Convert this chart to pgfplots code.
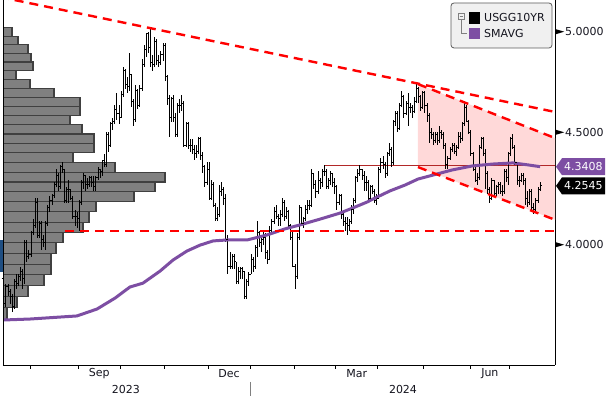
\documentclass[border=0pt]{standalone}
\usepackage{pgfplots}
\pgfplotsset{compat=1.18}
\usepackage{pgfplotstable}
\usepackage{fontspec}
\setmainfont{DejaVu Sans}
\definecolor{smacol}{RGB}{125,78,163}
\definecolor{pinkfill}{RGB}{255,217,217}
\definecolor{barfill}{RGB}{128,128,128}
\definecolor{baredge}{RGB}{64,64,64}
\definecolor{thinred}{RGB}{178,40,40}
\definecolor{legbg}{RGB}{240,240,240}
\definecolor{legedge}{RGB}{90,90,90}
\definecolor{bbblue}{RGB}{31,78,130}
\definecolor{txt}{RGB}{20,20,30}

\pgfdeclareplotmark{otick}{\pgfpathmoveto{\pgfqpoint{-2.2pt}{0pt}}\pgfpathlineto{\pgfqpoint{0pt}{0pt}}\pgfusepathqstroke}
\pgfdeclareplotmark{ctick}{\pgfpathmoveto{\pgfqpoint{0pt}{0pt}}\pgfpathlineto{\pgfqpoint{2.2pt}{0pt}}\pgfusepathqstroke}
\newcommand\tri{\tikz[baseline=-4pt]\fill[black] (0,-2.4pt)--(8pt,0)--(0,2.4pt)--cycle;\hspace{1pt}}
\newcommand\lblfont{\fontsize{11}{13}\selectfont}

\pgfplotstableread{
i o h l c
0 3.86 3.87 3.74 3.76
1 3.76 3.84 3.75 3.83
2 3.83 3.84 3.79 3.81
3 3.81 3.82 3.76 3.79
4 3.79 3.80 3.73 3.75
5 3.75 3.86 3.74 3.85
6 3.85 3.88 3.82 3.84
7 3.84 3.88 3.83 3.87
8 3.87 3.91 3.85 3.89
9 3.89 3.90 3.82 3.86
10 3.86 4.02 3.84 4.01
11 4.01 4.02 3.93 3.95
12 3.95 3.98 3.94 3.96
13 3.96 4.06 3.95 4.05
14 4.05 4.11 4.04 4.08
15 4.08 4.20 4.07 4.18
16 4.18 4.20 4.03 4.04
17 4.04 4.10 4.03 4.09
18 4.09 4.10 3.98 4.02
19 4.02 4.04 3.99 4.01
20 4.01 4.10 3.98 4.09
21 4.09 4.17 4.08 4.16
22 4.16 4.21 4.14 4.19
23 4.19 4.22 4.17 4.21
24 4.21 4.27 4.20 4.26
25 4.26 4.33 4.25 4.30
26 4.30 4.31 4.23 4.25
27 4.25 4.35 4.24 4.34
28 4.34 4.36 4.31 4.33
29 4.33 4.33 4.18 4.19
30 4.19 4.25 4.18 4.24
31 4.24 4.28 4.18 4.24
32 4.24 4.24 4.19 4.20
33 4.20 4.21 4.11 4.12
34 4.12 4.15 4.08 4.12
35 4.12 4.14 4.07 4.11
36 4.11 4.19 4.06 4.18
37 4.18 4.28 4.17 4.27
38 4.27 4.31 4.24 4.30
39 4.30 4.30 4.23 4.26
40 4.26 4.29 4.24 4.26
41 4.26 4.30 4.25 4.29
42 4.29 4.30 4.25 4.27
43 4.27 4.30 4.23 4.25
44 4.25 4.30 4.23 4.29
45 4.29 4.34 4.28 4.33
46 4.33 4.33 4.29 4.32
47 4.32 4.37 4.30 4.37
48 4.37 4.40 4.34 4.35
49 4.35 4.50 4.34 4.49
50 4.49 4.50 4.41 4.44
51 4.44 4.55 4.43 4.54
52 4.54 4.57 4.51 4.55
53 4.55 4.63 4.54 4.61
54 4.61 4.69 4.56 4.59
55 4.59 4.63 4.54 4.57
56 4.57 4.70 4.57 4.68
57 4.68 4.82 4.67 4.80
58 4.80 4.81 4.71 4.73
59 4.73 4.77 4.69 4.72
60 4.72 4.89 4.70 4.78
61 4.78 4.78 4.62 4.65
62 4.65 4.66 4.53 4.56
63 4.56 4.73 4.55 4.70
64 4.70 4.71 4.61 4.63
65 4.63 4.73 4.62 4.71
66 4.71 4.86 4.70 4.83
67 4.83 4.93 4.82 4.91
68 4.91 4.99 4.87 4.99
69 4.99 5.00 4.89 4.92
70 4.92 5.02 4.82 4.84
71 4.84 4.88 4.80 4.83
72 4.83 4.97 4.82 4.95
73 4.95 4.96 4.83 4.85
74 4.85 4.88 4.82 4.84
75 4.84 4.90 4.83 4.88
76 4.88 4.94 4.85 4.93
77 4.93 4.94 4.75 4.77
78 4.77 4.78 4.63 4.66
79 4.66 4.68 4.48 4.57
80 4.57 4.67 4.55 4.66
81 4.66 4.68 4.55 4.57
82 4.57 4.59 4.48 4.49
83 4.49 4.64 4.48 4.63
84 4.63 4.66 4.59 4.63
85 4.63 4.68 4.60 4.64
86 4.64 4.65 4.43 4.44
87 4.44 4.55 4.43 4.54
88 4.54 4.55 4.42 4.44
89 4.44 4.47 4.41 4.44
90 4.44 4.47 4.40 4.42
91 4.42 4.44 4.37 4.40
92 4.40 4.44 4.38 4.41
93 4.41 4.48 4.40 4.47
94 4.47 4.48 4.37 4.39
95 4.39 4.41 4.31 4.34
96 4.34 4.35 4.25 4.27
97 4.27 4.36 4.26 4.33
98 4.33 4.36 4.19 4.20
99 4.20 4.28 4.19 4.26
100 4.26 4.27 4.16 4.17
101 4.17 4.18 4.10 4.11
102 4.11 4.16 4.10 4.13
103 4.13 4.26 4.12 4.23
104 4.23 4.27 4.21 4.24
105 4.24 4.25 4.17 4.20
106 4.20 4.22 4.01 4.02
107 4.02 4.04 3.88 3.91
108 3.91 3.97 3.90 3.91
109 3.91 3.96 3.90 3.95
110 3.95 3.96 3.90 3.93
111 3.93 3.93 3.84 3.85
112 3.85 3.91 3.84 3.89
113 3.89 3.91 3.86 3.90
114 3.90 3.91 3.86 3.89
115 3.89 3.89 3.78 3.79
116 3.79 3.86 3.78 3.85
117 3.85 3.89 3.83 3.88
118 3.88 3.96 3.88 3.94
119 3.94 3.95 3.89 3.91
120 3.91 4.00 3.90 3.99
121 3.99 4.10 3.95 4.05
122 4.05 4.06 3.99 4.01
123 4.01 4.04 3.97 4.02
124 4.02 4.06 4.00 4.03
125 4.03 4.05 3.94 3.97
126 3.97 3.98 3.92 3.94
127 3.94 4.08 3.94 4.06
128 4.06 4.11 4.04 4.10
129 4.10 4.16 4.09 4.14
130 4.14 4.17 4.11 4.12
131 4.12 4.13 4.08 4.11
132 4.11 4.15 4.08 4.13
133 4.13 4.20 4.12 4.18
134 4.18 4.19 4.10 4.12
135 4.12 4.16 4.11 4.14
136 4.14 4.15 4.07 4.08
137 4.08 4.09 4.02 4.03
138 4.03 4.06 3.91 3.91
139 3.91 3.92 3.82 3.87
140 3.87 4.05 3.86 4.03
141 4.03 4.17 4.02 4.16
142 4.16 4.16 4.08 4.09
143 4.09 4.12 4.07 4.11
144 4.11 4.17 4.10 4.15
145 4.15 4.19 4.13 4.17
146 4.17 4.19 4.15 4.17
147 4.17 4.33 4.16 4.31
148 4.31 4.31 4.24 4.26
149 4.26 4.28 4.20 4.23
150 4.23 4.32 4.22 4.28
151 4.28 4.29 4.24 4.27
152 4.27 4.33 4.25 4.32
153 4.32 4.35 4.30 4.32
154 4.32 4.33 4.24 4.25
155 4.25 4.29 4.24 4.28
156 4.28 4.32 4.26 4.31
157 4.31 4.31 4.25 4.27
158 4.27 4.29 4.22 4.25
159 4.25 4.26 4.15 4.18
160 4.18 4.22 4.17 4.21
161 4.21 4.22 4.11 4.13
162 4.13 4.15 4.08 4.10
163 4.10 4.12 4.06 4.09
164 4.09 4.12 4.04 4.08
165 4.08 4.11 4.06 4.10
166 4.10 4.17 4.09 4.15
167 4.15 4.20 4.13 4.19
168 4.19 4.30 4.18 4.29
169 4.29 4.33 4.27 4.31
170 4.31 4.35 4.30 4.33
171 4.33 4.33 4.28 4.30
172 4.30 4.32 4.23 4.27
173 4.27 4.30 4.23 4.27
174 4.27 4.28 4.19 4.20
175 4.20 4.26 4.19 4.25
176 4.25 4.26 4.22 4.23
177 4.23 4.24 4.18 4.19
178 4.19 4.22 4.17 4.20
179 4.20 4.34 4.20 4.33
180 4.33 4.38 4.31 4.36
181 4.36 4.39 4.33 4.35
182 4.35 4.36 4.29 4.31
183 4.31 4.41 4.30 4.40
184 4.40 4.45 4.39 4.42
185 4.42 4.43 4.34 4.36
186 4.36 4.56 4.35 4.55
187 4.55 4.60 4.53 4.59
188 4.59 4.60 4.50 4.52
189 4.52 4.64 4.51 4.63
190 4.63 4.70 4.62 4.67
191 4.67 4.68 4.57 4.59
192 4.59 4.65 4.58 4.64
193 4.64 4.69 4.53 4.62
194 4.62 4.64 4.59 4.62
195 4.62 4.63 4.57 4.60
196 4.60 4.67 4.59 4.65
197 4.65 4.74 4.64 4.71
198 4.71 4.72 4.64 4.67
199 4.67 4.68 4.60 4.62
200 4.62 4.70 4.61 4.69
201 4.69 4.70 4.59 4.63
202 4.63 4.64 4.55 4.58
203 4.58 4.59 4.45 4.50
204 4.50 4.52 4.47 4.49
205 4.49 4.50 4.44 4.46
206 4.46 4.50 4.45 4.49
207 4.49 4.50 4.44 4.46
208 4.46 4.53 4.45 4.50
209 4.50 4.51 4.47 4.49
210 4.49 4.50 4.42 4.44
211 4.44 4.45 4.33 4.35
212 4.35 4.39 4.33 4.38
213 4.38 4.43 4.37 4.42
214 4.42 4.45 4.41 4.44
215 4.44 4.45 4.40 4.41
216 4.41 4.44 4.39 4.43
217 4.43 4.50 4.42 4.48
218 4.48 4.50 4.45 4.47
219 4.47 4.55 4.46 4.54
220 4.54 4.64 4.53 4.62
221 4.62 4.63 4.55 4.55
222 4.55 4.56 4.49 4.50
223 4.50 4.51 4.39 4.40
224 4.40 4.41 4.32 4.33
225 4.33 4.34 4.27 4.28
226 4.28 4.31 4.26 4.29
227 4.29 4.44 4.28 4.43
228 4.43 4.48 4.42 4.47
229 4.47 4.48 4.39 4.40
230 4.40 4.42 4.24 4.31
231 4.31 4.32 4.22 4.24
232 4.24 4.25 4.18 4.20
233 4.20 4.29 4.19 4.28
234 4.28 4.28 4.21 4.22
235 4.22 4.26 4.21 4.25
236 4.25 4.27 4.22 4.26
237 4.26 4.27 4.22 4.23
238 4.23 4.26 4.21 4.23
239 4.23 4.33 4.22 4.32
240 4.32 4.33 4.27 4.29
241 4.29 4.41 4.26 4.40
242 4.40 4.48 4.39 4.47
243 4.47 4.49 4.42 4.43
244 4.43 4.44 4.35 4.36
245 4.36 4.36 4.26 4.28
246 4.28 4.30 4.25 4.28
247 4.28 4.31 4.27 4.30
248 4.30 4.31 4.26 4.28
249 4.28 4.29 4.17 4.20
250 4.20 4.23 4.16 4.18
251 4.18 4.24 4.17 4.23
252 4.23 4.24 4.15 4.16
253 4.16 4.18 4.13 4.15
254 4.15 4.20 4.14 4.19
255 4.19 4.25 4.18 4.24
256 4.24 4.27 4.23 4.2545
}\ohlc

\begin{document}
\begin{tikzpicture}
% ---- volume-at-price profile (background axis) ----
\begin{axis}[
  at={(0,0)}, anchor=south west,
  scale only axis, width=552pt, height=365pt,
  xmin=0, xmax=552,
  ymode=log, ymin=3.527, ymax=5.169,
  hide axis, clip=true,
]
\addplot[xbar interval, fill=barfill, draw=baredge, line width=1.1pt]
coordinates {
(4,3.700) (14,3.744) (25,3.788) (41,3.832) (48,3.876) (48,3.920)
(53,3.964) (60,4.008) (80,4.052) (86,4.096) (93,4.140) (131,4.184)
(152,4.228) (162,4.272) (112,4.316) (70,4.360) (91,4.404) (91,4.448)
(79,4.492) (67,4.536) (77,4.580) (77,4.624) (51,4.668) (27,4.712)
(13,4.756) (30,4.800) (28,4.844) (25,4.888) (15,4.932) (9,4.976) (0,5.020)
};
\end{axis}

% ---- main price axis ----
\begin{axis}[
  at={(0,0)}, anchor=south west,
  scale only axis, width=552pt, height=365pt,
  xmin=-0.39, xmax=263.1,
  ymode=log, ymin=3.527, ymax=5.169,
  axis x line*=bottom, axis y line*=right,
  axis line style={black, line width=0.8pt},
  xtick={12.5,35.5,55.5,76.5,97.5,117.5,138.5,158.5,178.5,200.5,222.5,241.5},
  xticklabels={},
  tick align=outside, major tick length=4pt,
  xtick style={black, line width=0.8pt},
  extra x ticks={45.5,107.5,168.5,232},
  extra x tick labels={Sep,Dec,Mar,Jun},
  extra x tick style={major tick length=0pt,
     xticklabel style={anchor=center, yshift=-9pt}},
  xticklabel style={font=\lblfont, text=txt},
  ytick={4,4.5,5},
  yticklabels={{\tri 4.0000},{\tri 4.5000},{\tri 5.0000}},
  ytick style={draw=none},
  yminorticks=false,
  yticklabel style={anchor=west, inner sep=0pt, xshift=-3pt, font=\lblfont, text=txt},
  clip=true,
]
% falling channel (shaded)
\addplot[fill=pinkfill, draw=none] coordinates {(197.7,4.733) (263.1,4.473) (263.1,4.106) (197.7,4.339) (197.7,4.733)};
% thin horizontal level
\addplot[thinred, line width=0.8pt] coordinates {(153.3,4.345) (263.1,4.345)};
% OHLC bars: high-low range with close tick
\addplot[only marks, mark=ctick, mark options={black, line width=1pt},
  error bars/.cd, y dir=both, y explicit, error mark=none,
  error bar style={black, line width=1pt}]
  table[x=i, y=c, y error plus expr=\thisrow{h}-\thisrow{c}, y error minus expr=\thisrow{c}-\thisrow{l}] {\ohlc};
% open tick
\addplot[only marks, mark=otick, mark options={black, line width=1pt}] table[x=i, y=o] {\ohlc};
% moving average
\addplot[smacol, line width=3pt, line join=round] coordinates {
(0,3.697) (12.5,3.701) (34.9,3.713) (44.5,3.740) (53.1,3.783) (60.2,3.827)
(66.4,3.843) (74.6,3.892) (80.8,3.937) (87.4,3.974) (93.7,3.999) (99.9,4.016)
(106.5,4.020) (116.1,4.020) (125.6,4.041) (134.2,4.067) (141.4,4.084) (151.0,4.109)
(160.5,4.135) (167.6,4.161) (173.4,4.183) (176.2,4.196) (184.3,4.232) (191.5,4.258)
(197.7,4.285) (204.9,4.303) (214.0,4.326) (223.5,4.344) (233.5,4.353) (243.0,4.358)
(250.2,4.349) (256,4.3408)
};
% trend lines
\addplot[red, line width=2.4pt, dash pattern=on 9pt off 6pt] coordinates {(-1.82,5.185) (263.1,4.597)};
\addplot[red, line width=2.4pt, dash pattern=on 9pt off 6pt] coordinates {(197.7,4.733) (263.1,4.473)};
\addplot[red, line width=2.4pt, dash pattern=on 9pt off 6pt] coordinates {(197.7,4.339) (263.1,4.106)};
\addplot[red, line width=2.4pt, dash pattern=on 9pt off 6pt] coordinates {(29.2,4.059) (263.1,4.059)};
\coordinate (smaend) at (axis cs:263.1,4.3408);
\coordinate (pxend) at (axis cs:263.1,4.2545);
\coordinate (jan) at (axis cs:117.5,3.527);
\end{axis}

% left axis line and side marker
\draw[black, line width=0.8pt] (0,0) -- (0,365pt);
\fill[bbblue] (-3pt,93pt) rectangle (-0.4pt,125pt);

% year labels and separator
\node[font=\lblfont, text=txt] at (122.8pt,-24pt) {2023};
\node[font=\lblfont, text=txt] at (400pt,-24pt) {2024};
\draw[gray, line width=0.6pt] ([yshift=-17pt]jan) -- ([yshift=-31pt]jan);

% last value tags
\fill[smacol] ([xshift=1pt]smaend) -- ++(6pt,8.5pt) -- ++(43pt,0) -- ++(0,-17pt) -- ++(-43pt,0) -- cycle;
\node[anchor=west, inner xsep=0pt, text=white, font=\lblfont] at ([xshift=9pt]smaend) {4.3408};
\fill[black] ([xshift=1pt]pxend) -- ++(6pt,8.5pt) -- ++(43pt,0) -- ++(0,-17pt) -- ++(-43pt,0) -- cycle;
\node[anchor=west, inner xsep=0pt, text=white, font=\lblfont] at ([xshift=9pt]pxend) {4.2545};

% legend
\draw[legedge, fill=legbg, rounded corners=3pt, line width=0.8pt] (448pt,317pt) rectangle (549pt,362pt);
\draw[gray, line width=0.6pt] (455pt,346pt) rectangle (461pt,352pt);
\draw[gray, line width=0.6pt] (456.5pt,349pt) -- (459.5pt,349pt);
\draw[gray, line width=0.6pt] (458pt,346pt) -- (458pt,332pt) -- (464pt,332pt);
\fill[black] (466pt,341pt) rectangle (477pt,353pt);
\fill[smacol] (466pt,326pt) rectangle (477pt,337pt);
\node[anchor=west, inner sep=0pt, font=\lblfont, text=txt] at (481pt,347pt) {USGG10YR};
\node[anchor=west, inner sep=0pt, font=\lblfont, text=txt] at (481pt,331.5pt) {SMAVG};

\pgfresetboundingbox
\path[use as bounding box] (-3pt,-31pt) rectangle (603pt,365pt);
\end{tikzpicture}
\end{document}
